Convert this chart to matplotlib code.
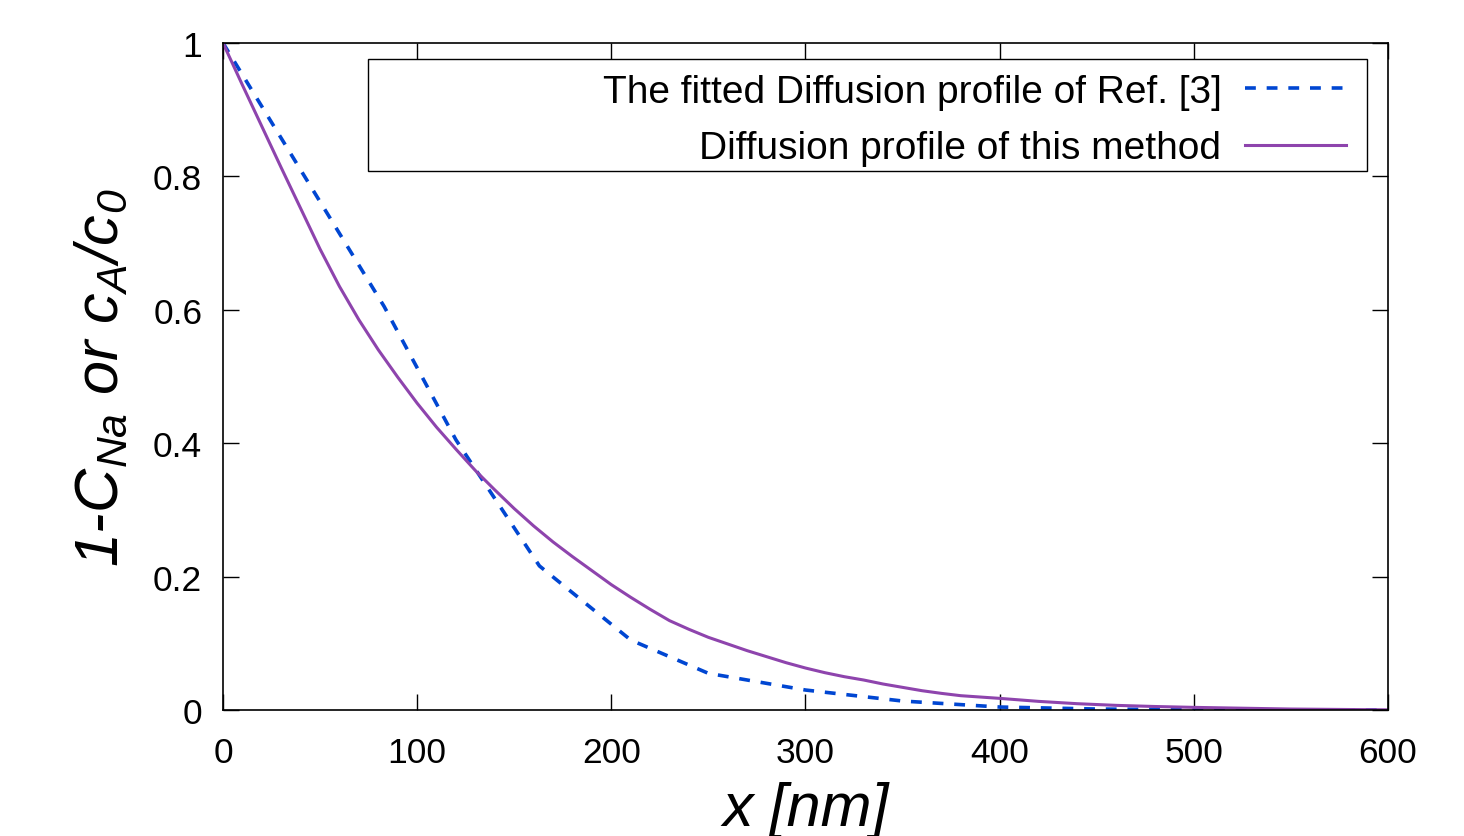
import matplotlib
matplotlib.use('Agg')
import matplotlib.pyplot as plt
from matplotlib.patches import Rectangle

plt.rcParams['font.family'] = ['Liberation Sans', 'DejaVu Sans']
plt.rcParams['mathtext.fontset'] = 'custom'
plt.rcParams['mathtext.it'] = 'Liberation Sans:italic'
plt.rcParams['mathtext.rm'] = 'Liberation Sans:italic'

# fitted profile of Ref. [3] (piecewise)
ref_x = [0, 83, 120, 163, 210, 250, 300, 350, 400, 450, 500, 600]
ref_y = [1.0, 0.605, 0.405, 0.216, 0.105, 0.055, 0.030, 0.0135, 0.0045, 0.0015, 0.0005, 0.0]

# profile of this method
this_x = [0, 10, 20, 30, 40, 50, 60, 70, 80, 90, 100, 110, 120, 130, 140, 150,
          160, 170, 180, 190, 200, 210, 220, 230, 240, 250, 260, 270, 280, 290,
          300, 310, 320, 330, 340, 350, 360, 370, 380, 390, 400, 420, 440, 460,
          480, 500, 550, 600]
this_y = [1.0, 0.937, 0.875, 0.813, 0.752, 0.691, 0.635, 0.585, 0.540, 0.499,
          0.460, 0.424, 0.391, 0.359, 0.330, 0.302, 0.276, 0.252, 0.230, 0.209,
          0.188, 0.169, 0.151, 0.134, 0.121, 0.109, 0.099, 0.089, 0.080, 0.071,
          0.063, 0.056, 0.050, 0.045, 0.039, 0.034, 0.029, 0.025, 0.0215, 0.0195,
          0.0175, 0.013, 0.0095, 0.007, 0.0053, 0.004, 0.0015, 0.0003]

xticks = [0, 100, 200, 300, 400, 500, 600]
yticks = [0, 0.2, 0.4, 0.6, 0.8, 1]
ytick_labels = ['0', '0.2', '0.4', '0.6', '0.8', '1']

fig = plt.figure(figsize=(14.64, 8.37), dpi=100)
ax = fig.add_axes([0.1523, 0.1505, 0.7957, 0.797])

ax.plot(ref_x, ref_y, color='#0046d2', lw=2.6, dashes=(3, 3),
        label='The fitted Diffusion profile of Ref. [3]')
ax.plot(this_x, this_y, color='#8e44ad', lw=2.2,
        label='Diffusion profile of this method')

ax.set_xlim(0, 600)
ax.set_ylim(0, 1)
ax.set_xticks(xticks)
ax.set_yticks(yticks)
ax.set_yticklabels(ytick_labels)
ax.tick_params(direction='in', length=11.5, width=1, top=True, right=True,
               labelsize=25.5, pad=15)
ax.tick_params(axis='x', pad=19)
for s in ax.spines.values():
    s.set_linewidth(1.2)

ax.set_xlabel('x [nm]', fontsize=44, fontstyle='italic', labelpad=8)
ax.set_ylabel(r'1-C$_{Na}$ or c$_A$/c$_0$', fontsize=44, fontstyle='italic',
              labelpad=16)

# legend frame like gnuplot's key box
ax.add_patch(Rectangle((0.1245, 0.808), 0.8575, 0.168, transform=ax.transAxes,
                       fill=False, edgecolor='black', lw=1.0, zorder=5))
leg = ax.legend(loc='upper right', bbox_to_anchor=(0.964, 0.954), fontsize=28,
                markerfirst=False, handlelength=2.6, frameon=False,
                borderpad=0, labelspacing=0.53, handletextpad=0.6,
                borderaxespad=0)
for t in leg.get_texts():
    t.set_ha('right')
leg._legend_box.align = 'right'

fig.savefig('out.png', dpi=100)
